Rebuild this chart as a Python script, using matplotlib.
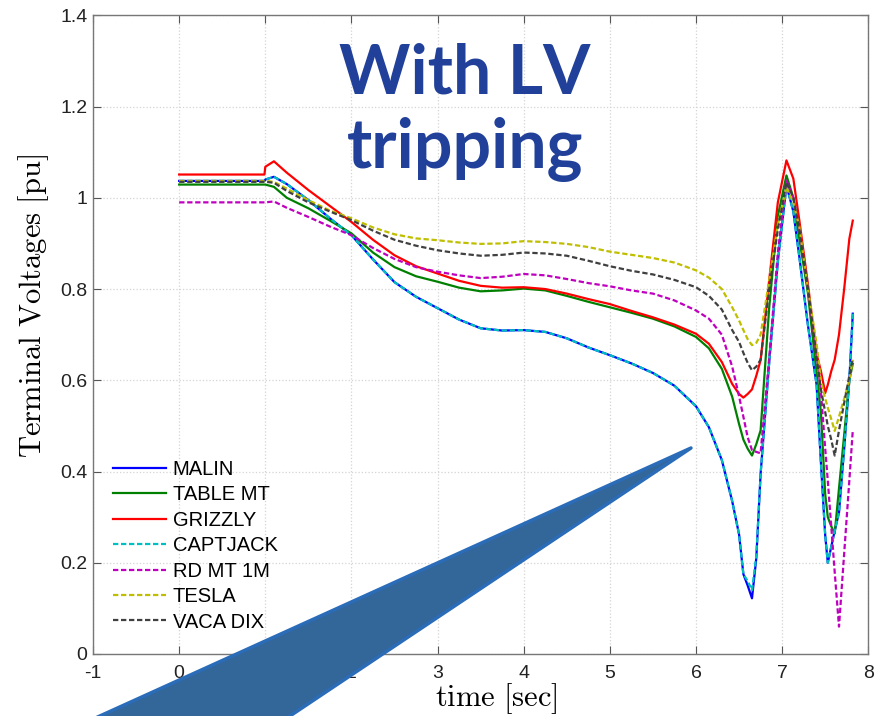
import numpy as np
import matplotlib
matplotlib.use("Agg")
import matplotlib.pyplot as plt
from matplotlib.patches import Polygon
from matplotlib.ticker import FuncFormatter

plt.rcParams['mathtext.fontset'] = 'cm'

# shared time base (sec)
t = [0.0, 0.99, 1.0, 1.1, 1.25, 1.5, 1.75, 2.0,
     2.25, 2.5, 2.75, 3.0, 3.25, 3.5, 3.75, 4.0,
     4.25, 4.5, 4.75, 5.0, 5.25, 5.5, 5.75, 6.0,
     6.15, 6.3, 6.42, 6.5, 6.55, 6.6, 6.65, 6.7,
     6.75, 6.85, 6.95, 7.05, 7.13, 7.2, 7.3, 7.4,
     7.45, 7.5, 7.53, 7.57, 7.61, 7.66, 7.72, 7.78, 7.82]

# terminal voltages [pu]
malin = [1.037, 1.037, 1.040, 1.046, 1.030, 0.995, 0.955, 0.918,
         0.865, 0.815, 0.783, 0.758, 0.733, 0.714, 0.709, 0.710,
         0.706, 0.692, 0.672, 0.655, 0.637, 0.616, 0.588, 0.543,
         0.497, 0.425, 0.335, 0.262, 0.175, 0.150, 0.122, 0.210,
         0.395, 0.640, 0.860, 1.027, 0.970, 0.870, 0.720, 0.590,
         0.420, 0.260, 0.200, 0.235, 0.270, 0.310, 0.450, 0.600, 0.746]
table_mt = [1.029, 1.029, 1.029, 1.024, 1.000, 0.977, 0.950, 0.922,
            0.880, 0.848, 0.828, 0.816, 0.803, 0.795, 0.797, 0.801,
            0.797, 0.785, 0.772, 0.760, 0.748, 0.735, 0.718, 0.695,
            0.670, 0.625, 0.564, 0.504, 0.470, 0.450, 0.435, 0.460,
            0.490, 0.760, 0.960, 1.049, 1.000, 0.910, 0.790, 0.615,
            0.530, 0.350, 0.300, 0.280, 0.264, 0.363, 0.480, 0.600, 0.636]
grizzly = [1.051, 1.051, 1.068, 1.080, 1.055, 1.017, 0.982, 0.947,
           0.908, 0.874, 0.850, 0.834, 0.818, 0.807, 0.803, 0.804,
           0.800, 0.790, 0.778, 0.767, 0.752, 0.738, 0.722, 0.702,
           0.680, 0.640, 0.592, 0.570, 0.562, 0.570, 0.580, 0.610,
           0.644, 0.820, 0.990, 1.082, 1.042, 0.950, 0.810, 0.658,
           0.620, 0.572, 0.590, 0.620, 0.645, 0.700, 0.800, 0.910, 0.950]
captjack = [1.037, 1.037, 1.040, 1.046, 1.030, 0.995, 0.955, 0.918,
            0.865, 0.815, 0.783, 0.758, 0.733, 0.714, 0.709, 0.710,
            0.706, 0.692, 0.672, 0.655, 0.637, 0.616, 0.588, 0.543,
            0.497, 0.425, 0.335, 0.262, 0.175, 0.160, 0.140, 0.215,
            0.395, 0.640, 0.860, 1.027, 0.970, 0.870, 0.720, 0.590,
            0.420, 0.260, 0.200, 0.235, 0.270, 0.310, 0.450, 0.600, 0.746]
rd_mt_1m = [0.990, 0.990, 0.990, 0.992, 0.978, 0.958, 0.937, 0.918,
            0.890, 0.866, 0.848, 0.838, 0.830, 0.824, 0.827, 0.833,
            0.830, 0.822, 0.813, 0.806, 0.797, 0.790, 0.775, 0.753,
            0.735, 0.700, 0.630, 0.565, 0.520, 0.475, 0.447, 0.443,
            0.440, 0.650, 0.880, 1.038, 1.000, 0.930, 0.800, 0.660,
            0.575, 0.450, 0.380, 0.280, 0.180, 0.060, 0.220, 0.380, 0.490]
tesla = [1.037, 1.037, 1.037, 1.035, 1.020, 0.995, 0.972, 0.955,
         0.935, 0.920, 0.911, 0.907, 0.902, 0.899, 0.900, 0.905,
         0.903, 0.899, 0.892, 0.882, 0.875, 0.868, 0.858, 0.841,
         0.825, 0.800, 0.760, 0.731, 0.710, 0.690, 0.677, 0.682,
         0.700, 0.820, 0.940, 1.023, 0.990, 0.936, 0.800, 0.680,
         0.600, 0.560, 0.540, 0.515, 0.489, 0.520, 0.560, 0.600, 0.645]
vaca_dix = [1.035, 1.035, 1.035, 1.033, 1.015, 0.990, 0.970, 0.951,
            0.928, 0.908, 0.895, 0.885, 0.878, 0.873, 0.875, 0.880,
            0.878, 0.873, 0.862, 0.850, 0.840, 0.832, 0.820, 0.804,
            0.785, 0.755, 0.710, 0.684, 0.660, 0.638, 0.622, 0.630,
            0.645, 0.800, 0.930, 1.034, 1.000, 0.930, 0.800, 0.650,
            0.580, 0.530, 0.500, 0.470, 0.435, 0.490, 0.550, 0.610, 0.647]

series = [
    ('MALIN', malin, (0, 0, 1), '-'),
    ('TABLE MT', table_mt, (0, 0.5, 0), '-'),
    ('GRIZZLY', grizzly, (1, 0, 0), '-'),
    ('CAPTJACK', captjack, (0, 0.75, 0.75), '--'),
    ('RD MT 1M', rd_mt_1m, (0.75, 0, 0.75), '--'),
    ('TESLA', tesla, (0.75, 0.75, 0), '--'),
    ('VACA DIX', vaca_dix, (0.25, 0.25, 0.25), '--'),
]

fig = plt.figure(figsize=(8.86, 7.16), dpi=100)
ax = fig.add_axes([0.105, 0.0866, 0.875, 0.892])

for name, vals, col, ls in series:
    line, = ax.plot(t, vals, color=col, linestyle=ls, linewidth=1.6, label=name)
    if ls == '--':
        line.set_dashes((2.4, 1.2))

ax.set_xlim(-1, 8)
ax.set_ylim(0, 1.4)
ax.set_xticks(np.arange(-1, 9, 1))
ax.set_yticks(np.arange(0, 1.41, 0.2))
fmt = FuncFormatter(lambda v, p: '%g' % round(v, 2))
ax.xaxis.set_major_formatter(fmt)
ax.yaxis.set_major_formatter(fmt)
ax.grid(True, color='#d4d4d4', linestyle=':', linewidth=0.9)
ax.tick_params(direction='in', length=6, width=0.8, color='#555555',
               top=True, right=True, labelsize=14, labelcolor='#222222')
ax.tick_params(axis='x', pad=8)
ax.tick_params(axis='y', pad=4)
for lbl in ax.get_xticklabels() + ax.get_yticklabels():
    lbl.set_fontfamily('Liberation Sans')
for sp in ax.spines.values():
    sp.set_color('#777777')
    sp.set_linewidth(1.0)

ax.set_xlabel(r'$\mathrm{time\ [sec]}$', fontsize=22)
ax.set_ylabel(r'$\mathrm{Terminal\ Voltages\ [pu]}$', fontsize=22)
ax.xaxis.set_label_coords(0.52, -0.069)
ax.yaxis.set_label_coords(-0.077, 0.545)
ax.xaxis.label.set_va('center')
ax.yaxis.label.set_va('center')

ax.legend(loc='upper left', bbox_to_anchor=(0.026, 0.304), frameon=False,
          borderaxespad=0, borderpad=0, labelspacing=0.32, handlelength=2.6,
          handletextpad=0.35, prop={'family': 'Liberation Sans', 'size': 14.5})

fig.text(0.525, 0.843, 'With LV\ntripping', ha='center', va='center',
         multialignment='center', fontsize=49, fontweight='bold',
         family='Lato', color='#21409a', linespacing=1.22)

# callout wedge pointing into the plot
wedge = Polygon([(0.7799, 0.3743), (0.053, -0.0335), (0.2867, -0.0335)],
                closed=True, transform=fig.transFigure, facecolor='#336699',
                edgecolor='#2b6cb8', linewidth=2.5, joinstyle='round',
                clip_on=False, zorder=10)
fig.add_artist(wedge)

fig.savefig('out.png', dpi=100)
